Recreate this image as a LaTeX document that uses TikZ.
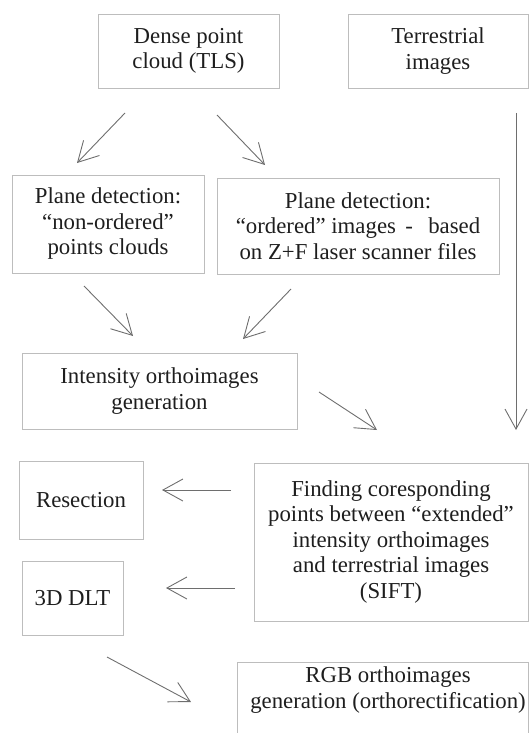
\documentclass[tikz,border=0pt]{standalone}
\usepackage{fontspec}
\setmainfont{Liberation Serif}
\usetikzlibrary{arrows.meta}
\definecolor{boxgray}{HTML}{BDBDBD}
\definecolor{arrgray}{HTML}{6E6E6E}
\definecolor{txt}{HTML}{1E1E1E}
\begin{document}
\begin{tikzpicture}[x=1pt,y=-1pt,
  box/.style={draw=boxgray, line width=0.9pt, rectangle, inner sep=0pt, text=txt,
    align=center, font=\fontsize{22.8}{25.5}\selectfont},
  arr/.style={draw=arrgray, line width=0.9pt, -{Straight Barb[length=20pt,width=22pt]}}]
\useasboundingbox (0,0) rectangle (529,733);
% boxes
\node[box, minimum width=181pt, minimum height=74pt] (dense) at (188.5,51) {Dense point\\cloud (TLS)};
\node[box, minimum width=180pt, minimum height=74pt] (terr) at (438,51) {Terrestrial\\images};
\node[box, minimum width=192pt, minimum height=98pt] (pl) at (108,224) {Plane detection:\\“non-ordered”\\points clouds};
\node[box, minimum width=282pt, minimum height=96pt] (pr) at (358,226) {Plane detection:\\“ordered” images \,-\, \ based\\on Z+F laser scanner files};
\node[box, minimum width=275pt, minimum height=76pt] (int) at (159.5,391) {Intensity orthoimages\\generation};
\node[box, minimum width=124pt, minimum height=78pt] (res) at (81,500) {Resection};
\node[box, minimum width=101pt, minimum height=74pt] (dlt) at (72.5,598) {3D DLT};
\node[box, minimum width=274pt, minimum height=158pt] (find) at (391,542) {Finding coresponding\\points between “extended”\\intensity orthoimages\\and terrestrial images\\(SIFT)};
\node[box, minimum width=291pt, minimum height=90pt, anchor=north west] (rgb) at (237,662) {};
\node[text=txt, align=center, font=\fontsize{22.8}{25.5}\selectfont] (rgbt) at (388,690) {RGB orthoimages\\generation (orthorectification)};
% arrow end points
\coordinate (a1s) at (125,113); \coordinate (a1e) at (77,163);
\coordinate (a2s) at (217,115); \coordinate (a2e) at (265,165);
\coordinate (a3s) at (516,113); \coordinate (a3e) at (516,430);
\coordinate (a4s) at (84,286);  \coordinate (a4e) at (133,336);
\coordinate (a5s) at (291,289); \coordinate (a5e) at (243,339);
\coordinate (a6s) at (319,392); \coordinate (a6e) at (377,430);
\coordinate (a7s) at (231,490); \coordinate (a7e) at (162,490);
\coordinate (a8s) at (235,588); \coordinate (a8e) at (166,588);
\coordinate (a9s) at (107,657); \coordinate (a9e) at (191,702);
% connectors
\draw[arr] (a1s) -- (a1e);
\draw[arr] (a2s) -- (a2e);
\draw[arr] (a3s) -- (a3e);
\draw[arr] (a4s) -- (a4e);
\draw[arr] (a5s) -- (a5e);
\draw[arr] (a6s) -- (a6e);
\draw[arr] (a7s) -- (a7e);
\draw[arr] (a8s) -- (a8e);
\draw[arr] (a9s) -- (a9e);
\end{tikzpicture}
\end{document}
